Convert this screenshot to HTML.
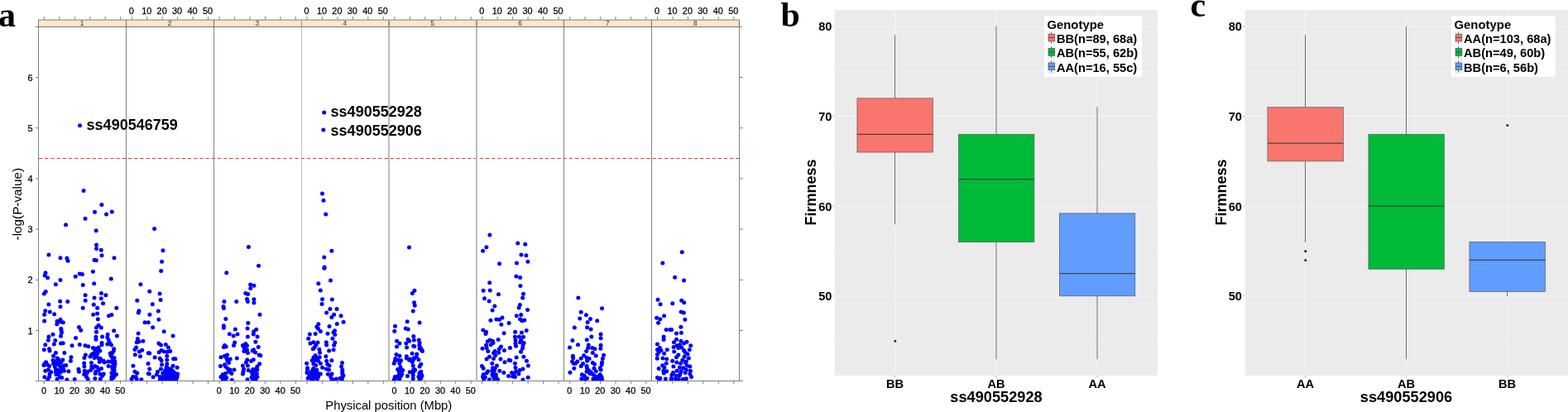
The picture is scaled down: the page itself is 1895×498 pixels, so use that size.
<!DOCTYPE html>
<html lang="en">
<head>
<meta charset="utf-8">
<title>GWAS Manhattan plot and genotype box plots for firmness</title>
<style>
html, body { margin: 0; padding: 0; background: #ffffff; }
body { width: 1895px; height: 498px; overflow: hidden; position: relative; font-family: "Liberation Sans", sans-serif; }
svg text { white-space: pre; }
</style>
</head>
<body>
<svg width="1895" height="498" viewBox="0 0 1895 498" style="display:block;position:absolute;left:0;top:0">
<rect x="0" y="0" width="1895" height="498" fill="#ffffff"/>
<g font-family='"Liberation Serif", serif' font-weight="700" fill="#000">
<text x="-2" y="31.8" font-size="42">a</text>
<text x="943.5" y="31.6" font-size="42">b</text>
<text x="1438.5" y="20.2" font-size="42">c</text>
</g>
<g id="manhattan">
<rect x="47" y="24" width="846.5" height="8.5" fill="#ffe5cc"/>
<g font-family='"Liberation Sans", sans-serif' font-size="8.4" fill="#333" text-anchor="middle">
<text x="99.14" y="30.8">1</text>
<text x="205.01" y="30.8">2</text>
<text x="310.89" y="30.8">3</text>
<text x="416.76" y="30.8">4</text>
<text x="522.64" y="30.8">5</text>
<text x="628.51" y="30.8">6</text>
<text x="734.39" y="30.8">7</text>
<text x="840.26" y="30.8">8</text>
</g>
<clipPath id="pc"><rect x="46" y="30" width="848" height="430.4"/></clipPath>
<g fill="#0000ff" id="dots" clip-path="url(#pc)">
<circle cx="58.93" cy="406.9" r="2.5"/>
<circle cx="73.55" cy="406.34" r="2.5"/>
<circle cx="91.55" cy="408.47" r="2.5"/>
<circle cx="115.95" cy="407.35" r="2.5"/>
<circle cx="123.6" cy="406.9" r="2.5"/>
<circle cx="129.79" cy="407.69" r="2.5"/>
<circle cx="141.37" cy="406" r="2.5"/>
<circle cx="58.37" cy="411.29" r="2.5"/>
<circle cx="66.81" cy="411.62" r="2.5"/>
<circle cx="115.95" cy="410.27" r="2.5"/>
<circle cx="131.25" cy="411.06" r="2.5"/>
<circle cx="54.77" cy="416.68" r="2.5"/>
<circle cx="65.34" cy="416.12" r="2.5"/>
<circle cx="73.55" cy="415" r="2.5"/>
<circle cx="76.14" cy="414.77" r="2.5"/>
<circle cx="87.05" cy="417.81" r="2.5"/>
<circle cx="96.27" cy="416.46" r="2.5"/>
<circle cx="103.02" cy="417.81" r="2.5"/>
<circle cx="106.73" cy="418.71" r="2.5"/>
<circle cx="123.04" cy="414.44" r="2.5"/>
<circle cx="123.04" cy="416.68" r="2.5"/>
<circle cx="129.79" cy="416.12" r="2.5"/>
<circle cx="132.6" cy="414.44" r="2.5"/>
<circle cx="134.62" cy="417.02" r="2.5"/>
<circle cx="53.31" cy="422.65" r="2.5"/>
<circle cx="59.5" cy="421.75" r="2.5"/>
<circle cx="60.06" cy="423.99" r="2.5"/>
<circle cx="112.36" cy="420.4" r="2.5"/>
<circle cx="114.6" cy="422.87" r="2.5"/>
<circle cx="119.1" cy="420.06" r="2.5"/>
<circle cx="120.79" cy="423.99" r="2.5"/>
<circle cx="116.85" cy="424.56" r="2.5"/>
<circle cx="137.66" cy="421.75" r="2.5"/>
<circle cx="137.32" cy="423.99" r="2.5"/>
<circle cx="67.37" cy="426.47" r="2.5"/>
<circle cx="77.83" cy="426.47" r="2.5"/>
<circle cx="103.36" cy="429.06" r="2.5"/>
<circle cx="110.67" cy="429.06" r="2.5"/>
<circle cx="113.48" cy="427.37" r="2.5"/>
<circle cx="117.98" cy="426.81" r="2.5"/>
<circle cx="133.16" cy="427.03" r="2.5"/>
<circle cx="135.97" cy="426.24" r="2.5"/>
<circle cx="64.56" cy="430.18" r="2.5"/>
<circle cx="69.06" cy="432.99" r="2.5"/>
<circle cx="85.93" cy="431.87" r="2.5"/>
<circle cx="101.9" cy="432.43" r="2.5"/>
<circle cx="108.98" cy="430.97" r="2.5"/>
<circle cx="114.04" cy="432.43" r="2.5"/>
<circle cx="116.29" cy="430.18" r="2.5"/>
<circle cx="119.1" cy="432.99" r="2.5"/>
<circle cx="121.35" cy="433.55" r="2.5"/>
<circle cx="134.29" cy="430.18" r="2.5"/>
<circle cx="135.97" cy="432.43" r="2.5"/>
<circle cx="63.99" cy="435.47" r="2.5"/>
<circle cx="70.18" cy="436.37" r="2.5"/>
<circle cx="75.8" cy="435.02" r="2.5"/>
<circle cx="72.99" cy="438.05" r="2.5"/>
<circle cx="85.36" cy="436.14" r="2.5"/>
<circle cx="55.56" cy="437.72" r="2.5"/>
<circle cx="53.87" cy="439.74" r="2.5"/>
<circle cx="101.67" cy="438.95" r="2.5"/>
<circle cx="110.44" cy="438.62" r="2.5"/>
<circle cx="120.23" cy="437.49" r="2.5"/>
<circle cx="125.29" cy="436.14" r="2.5"/>
<circle cx="126.41" cy="438.05" r="2.5"/>
<circle cx="130.91" cy="436.93" r="2.5"/>
<circle cx="135.97" cy="435.47" r="2.5"/>
<circle cx="138.79" cy="436.93" r="2.5"/>
<circle cx="138.22" cy="439.18" r="2.5"/>
<circle cx="52.97" cy="441.43" r="2.5"/>
<circle cx="57.25" cy="440.86" r="2.5"/>
<circle cx="59.5" cy="442.55" r="2.5"/>
<circle cx="64.56" cy="439.74" r="2.5"/>
<circle cx="66.24" cy="443.11" r="2.5"/>
<circle cx="71.31" cy="440.86" r="2.5"/>
<circle cx="76.93" cy="441.99" r="2.5"/>
<circle cx="79.74" cy="441.43" r="2.5"/>
<circle cx="74.68" cy="444.8" r="2.5"/>
<circle cx="101.9" cy="443.11" r="2.5"/>
<circle cx="110.67" cy="443.11" r="2.5"/>
<circle cx="114.6" cy="442.55" r="2.5"/>
<circle cx="117.42" cy="443.68" r="2.5"/>
<circle cx="131.14" cy="442.55" r="2.5"/>
<circle cx="137.1" cy="441.43" r="2.5"/>
<circle cx="138.22" cy="443.68" r="2.5"/>
<circle cx="54.77" cy="448.18" r="2.5"/>
<circle cx="58.37" cy="447.05" r="2.5"/>
<circle cx="61.75" cy="449.86" r="2.5"/>
<circle cx="67.37" cy="445.93" r="2.5"/>
<circle cx="69.06" cy="449.3" r="2.5"/>
<circle cx="72.99" cy="448.18" r="2.5"/>
<circle cx="77.49" cy="448.18" r="2.5"/>
<circle cx="82.89" cy="448.74" r="2.5"/>
<circle cx="94.92" cy="446.15" r="2.5"/>
<circle cx="95.49" cy="449.3" r="2.5"/>
<circle cx="102.23" cy="448.18" r="2.5"/>
<circle cx="105.61" cy="449.3" r="2.5"/>
<circle cx="109.54" cy="447.61" r="2.5"/>
<circle cx="112.36" cy="444.8" r="2.5"/>
<circle cx="115.73" cy="449.3" r="2.5"/>
<circle cx="119.1" cy="447.61" r="2.5"/>
<circle cx="122.48" cy="445.59" r="2.5"/>
<circle cx="135.97" cy="445.93" r="2.5"/>
<circle cx="137.66" cy="448.74" r="2.5"/>
<circle cx="60.06" cy="452.11" r="2.5"/>
<circle cx="70.18" cy="451.55" r="2.5"/>
<circle cx="53.87" cy="455.71" r="2.5"/>
<circle cx="59.5" cy="455.49" r="2.5"/>
<circle cx="67.93" cy="452.67" r="2.5"/>
<circle cx="72.43" cy="455.49" r="2.5"/>
<circle cx="74.68" cy="456.61" r="2.5"/>
<circle cx="101.67" cy="452.45" r="2.5"/>
<circle cx="105.05" cy="450.99" r="2.5"/>
<circle cx="104.48" cy="455.49" r="2.5"/>
<circle cx="115.17" cy="451.55" r="2.5"/>
<circle cx="120.79" cy="452.11" r="2.5"/>
<circle cx="125.29" cy="451.89" r="2.5"/>
<circle cx="123.6" cy="454.36" r="2.5"/>
<circle cx="135.97" cy="451.55" r="2.5"/>
<circle cx="140.47" cy="452.45" r="2.5"/>
<circle cx="138.22" cy="454.36" r="2.5"/>
<circle cx="134.85" cy="455.49" r="2.5"/>
<circle cx="57.81" cy="458.63" r="2.5"/>
<circle cx="69.06" cy="458.3" r="2.5"/>
<circle cx="80.86" cy="459.08" r="2.5"/>
<circle cx="90.2" cy="458.52" r="2.5"/>
<circle cx="106.17" cy="458.3" r="2.5"/>
<circle cx="114.83" cy="457.4" r="2.5"/>
<circle cx="121.35" cy="457.96" r="2.5"/>
<circle cx="134.85" cy="458.3" r="2.5"/>
<circle cx="137.1" cy="456.61" r="2.5"/>
<circle cx="209.08" cy="406" r="2.5"/>
<circle cx="166.34" cy="409.6" r="2.5"/>
<circle cx="165.21" cy="413.65" r="2.5"/>
<circle cx="168.03" cy="412.97" r="2.5"/>
<circle cx="172.86" cy="412.19" r="2.5"/>
<circle cx="191.87" cy="415" r="2.5"/>
<circle cx="194.46" cy="417.02" r="2.5"/>
<circle cx="200.3" cy="416.46" r="2.5"/>
<circle cx="203.45" cy="420.06" r="2.5"/>
<circle cx="164.65" cy="420.06" r="2.5"/>
<circle cx="162.97" cy="422.53" r="2.5"/>
<circle cx="168.36" cy="424.89" r="2.5"/>
<circle cx="171.74" cy="423.21" r="2.5"/>
<circle cx="179.27" cy="426.81" r="2.5"/>
<circle cx="163.3" cy="428.83" r="2.5"/>
<circle cx="169.49" cy="430.74" r="2.5"/>
<circle cx="192.21" cy="425.68" r="2.5"/>
<circle cx="195.02" cy="423.43" r="2.5"/>
<circle cx="198.39" cy="424.89" r="2.5"/>
<circle cx="202.33" cy="425.34" r="2.5"/>
<circle cx="205.7" cy="424.56" r="2.5"/>
<circle cx="187.15" cy="432.09" r="2.5"/>
<circle cx="201.77" cy="430.18" r="2.5"/>
<circle cx="193.33" cy="433.22" r="2.5"/>
<circle cx="195.02" cy="435.8" r="2.5"/>
<circle cx="201.77" cy="435.02" r="2.5"/>
<circle cx="209.64" cy="433.78" r="2.5"/>
<circle cx="211.89" cy="433.78" r="2.5"/>
<circle cx="179.05" cy="439.4" r="2.5"/>
<circle cx="195.58" cy="440.86" r="2.5"/>
<circle cx="201.77" cy="439.74" r="2.5"/>
<circle cx="160.94" cy="442.21" r="2.5"/>
<circle cx="209.08" cy="442.21" r="2.5"/>
<circle cx="214.14" cy="444.24" r="2.5"/>
<circle cx="180.74" cy="445.93" r="2.5"/>
<circle cx="194.46" cy="445.93" r="2.5"/>
<circle cx="201.2" cy="444.24" r="2.5"/>
<circle cx="206.83" cy="445.93" r="2.5"/>
<circle cx="179.27" cy="451.55" r="2.5"/>
<circle cx="162.97" cy="449.3" r="2.5"/>
<circle cx="165.78" cy="450.99" r="2.5"/>
<circle cx="190.52" cy="449.3" r="2.5"/>
<circle cx="189.4" cy="452.67" r="2.5"/>
<circle cx="185.12" cy="455.71" r="2.5"/>
<circle cx="160.72" cy="455.49" r="2.5"/>
<circle cx="164.09" cy="455.49" r="2.5"/>
<circle cx="159.03" cy="458.3" r="2.5"/>
<circle cx="165.21" cy="458.3" r="2.5"/>
<circle cx="170.84" cy="458.86" r="2.5"/>
<circle cx="196.71" cy="450.99" r="2.5"/>
<circle cx="200.08" cy="448.74" r="2.5"/>
<circle cx="203.45" cy="447.61" r="2.5"/>
<circle cx="205.7" cy="449.86" r="2.5"/>
<circle cx="209.08" cy="448.74" r="2.5"/>
<circle cx="211.33" cy="450.99" r="2.5"/>
<circle cx="214.7" cy="452.11" r="2.5"/>
<circle cx="197.83" cy="454.36" r="2.5"/>
<circle cx="201.2" cy="453.24" r="2.5"/>
<circle cx="204.58" cy="452.11" r="2.5"/>
<circle cx="207.95" cy="453.24" r="2.5"/>
<circle cx="211.33" cy="454.36" r="2.5"/>
<circle cx="214.14" cy="455.49" r="2.5"/>
<circle cx="193.33" cy="455.49" r="2.5"/>
<circle cx="196.71" cy="457.73" r="2.5"/>
<circle cx="200.08" cy="456.61" r="2.5"/>
<circle cx="203.45" cy="456.05" r="2.5"/>
<circle cx="206.83" cy="456.61" r="2.5"/>
<circle cx="210.2" cy="457.17" r="2.5"/>
<circle cx="213.01" cy="458.3" r="2.5"/>
<circle cx="193.33" cy="458.86" r="2.5"/>
<circle cx="197.83" cy="459.42" r="2.5"/>
<circle cx="202.33" cy="459.42" r="2.5"/>
<circle cx="205.7" cy="459.42" r="2.5"/>
<circle cx="209.08" cy="459.42" r="2.5"/>
<circle cx="282.18" cy="406" r="2.5"/>
<circle cx="299.39" cy="406.9" r="2.5"/>
<circle cx="311.08" cy="406.9" r="2.5"/>
<circle cx="283.64" cy="414.1" r="2.5"/>
<circle cx="282.52" cy="417.47" r="2.5"/>
<circle cx="308.84" cy="413.31" r="2.5"/>
<circle cx="271.5" cy="417.58" r="2.5"/>
<circle cx="273.18" cy="418.93" r="2.5"/>
<circle cx="270.37" cy="419.5" r="2.5"/>
<circle cx="296.8" cy="415.56" r="2.5"/>
<circle cx="293.43" cy="417.58" r="2.5"/>
<circle cx="298.49" cy="417.81" r="2.5"/>
<circle cx="295.11" cy="420.62" r="2.5"/>
<circle cx="298.49" cy="422.87" r="2.5"/>
<circle cx="294.89" cy="424.56" r="2.5"/>
<circle cx="299.39" cy="426.58" r="2.5"/>
<circle cx="312.21" cy="419.5" r="2.5"/>
<circle cx="306.59" cy="422.87" r="2.5"/>
<circle cx="305.24" cy="423.99" r="2.5"/>
<circle cx="308.61" cy="426.02" r="2.5"/>
<circle cx="313.11" cy="429.06" r="2.5"/>
<circle cx="314.8" cy="429.84" r="2.5"/>
<circle cx="274.65" cy="429.06" r="2.5"/>
<circle cx="271.5" cy="430.18" r="2.5"/>
<circle cx="267" cy="431.64" r="2.5"/>
<circle cx="273.75" cy="432.99" r="2.5"/>
<circle cx="286.34" cy="432.99" r="2.5"/>
<circle cx="278.24" cy="434.12" r="2.5"/>
<circle cx="274.87" cy="436.37" r="2.5"/>
<circle cx="276.56" cy="438.62" r="2.5"/>
<circle cx="298.71" cy="435.02" r="2.5"/>
<circle cx="306.36" cy="434.68" r="2.5"/>
<circle cx="303.55" cy="436.59" r="2.5"/>
<circle cx="297.36" cy="438.05" r="2.5"/>
<circle cx="313.67" cy="439.74" r="2.5"/>
<circle cx="271.5" cy="440.86" r="2.5"/>
<circle cx="266.44" cy="442.55" r="2.5"/>
<circle cx="272.62" cy="443.11" r="2.5"/>
<circle cx="274.87" cy="445.36" r="2.5"/>
<circle cx="293.43" cy="441.99" r="2.5"/>
<circle cx="299.39" cy="441.99" r="2.5"/>
<circle cx="294.55" cy="445.93" r="2.5"/>
<circle cx="310.86" cy="443.11" r="2.5"/>
<circle cx="309.17" cy="445.93" r="2.5"/>
<circle cx="305.8" cy="446.49" r="2.5"/>
<circle cx="278.24" cy="447.05" r="2.5"/>
<circle cx="282.97" cy="447.05" r="2.5"/>
<circle cx="276.56" cy="449.3" r="2.5"/>
<circle cx="279.93" cy="451.55" r="2.5"/>
<circle cx="272.62" cy="451.55" r="2.5"/>
<circle cx="269.25" cy="452.67" r="2.5"/>
<circle cx="267" cy="455.49" r="2.5"/>
<circle cx="270.93" cy="455.49" r="2.5"/>
<circle cx="273.75" cy="456.61" r="2.5"/>
<circle cx="269.25" cy="458.3" r="2.5"/>
<circle cx="272.62" cy="458.86" r="2.5"/>
<circle cx="280.27" cy="459.42" r="2.5"/>
<circle cx="293.99" cy="449.3" r="2.5"/>
<circle cx="293.43" cy="452.11" r="2.5"/>
<circle cx="300.18" cy="447.61" r="2.5"/>
<circle cx="304.11" cy="449.86" r="2.5"/>
<circle cx="307.49" cy="448.74" r="2.5"/>
<circle cx="310.86" cy="447.05" r="2.5"/>
<circle cx="310.3" cy="451.55" r="2.5"/>
<circle cx="305.24" cy="452.67" r="2.5"/>
<circle cx="307.49" cy="454.92" r="2.5"/>
<circle cx="304.11" cy="456.05" r="2.5"/>
<circle cx="310.86" cy="455.49" r="2.5"/>
<circle cx="299.05" cy="458.63" r="2.5"/>
<circle cx="305.24" cy="458.63" r="2.5"/>
<circle cx="309.17" cy="458.63" r="2.5"/>
<circle cx="372.72" cy="409.15" r="2.5"/>
<circle cx="401.96" cy="409.37" r="2.5"/>
<circle cx="374.97" cy="415" r="2.5"/>
<circle cx="378.9" cy="413.65" r="2.5"/>
<circle cx="383.96" cy="414.1" r="2.5"/>
<circle cx="381.71" cy="417.25" r="2.5"/>
<circle cx="380.03" cy="420.06" r="2.5"/>
<circle cx="378.34" cy="421.75" r="2.5"/>
<circle cx="394.31" cy="413.65" r="2.5"/>
<circle cx="394.65" cy="417.02" r="2.5"/>
<circle cx="404.77" cy="414.1" r="2.5"/>
<circle cx="403.64" cy="417.25" r="2.5"/>
<circle cx="385.87" cy="422.31" r="2.5"/>
<circle cx="386.55" cy="426.24" r="2.5"/>
<circle cx="397.68" cy="423.99" r="2.5"/>
<circle cx="403.08" cy="422.87" r="2.5"/>
<circle cx="381.15" cy="429.84" r="2.5"/>
<circle cx="378.9" cy="432.09" r="2.5"/>
<circle cx="382.28" cy="432.99" r="2.5"/>
<circle cx="386.21" cy="431.87" r="2.5"/>
<circle cx="393.86" cy="430.74" r="2.5"/>
<circle cx="377.21" cy="435.8" r="2.5"/>
<circle cx="380.59" cy="435.47" r="2.5"/>
<circle cx="384.53" cy="436.14" r="2.5"/>
<circle cx="387.34" cy="439.18" r="2.5"/>
<circle cx="394.65" cy="436.37" r="2.5"/>
<circle cx="400.83" cy="435.8" r="2.5"/>
<circle cx="370.69" cy="439.18" r="2.5"/>
<circle cx="378.9" cy="439.74" r="2.5"/>
<circle cx="381.71" cy="441.43" r="2.5"/>
<circle cx="395.77" cy="440.3" r="2.5"/>
<circle cx="398.02" cy="441.99" r="2.5"/>
<circle cx="413.54" cy="438.62" r="2.5"/>
<circle cx="412.64" cy="443.11" r="2.5"/>
<circle cx="371.59" cy="444.8" r="2.5"/>
<circle cx="371.59" cy="447.05" r="2.5"/>
<circle cx="378.9" cy="445.36" r="2.5"/>
<circle cx="382.84" cy="447.05" r="2.5"/>
<circle cx="389.59" cy="444.24" r="2.5"/>
<circle cx="394.31" cy="445.93" r="2.5"/>
<circle cx="397.46" cy="447.05" r="2.5"/>
<circle cx="413.77" cy="447.05" r="2.5"/>
<circle cx="413.77" cy="449.3" r="2.5"/>
<circle cx="371.03" cy="450.42" r="2.5"/>
<circle cx="376.09" cy="449.86" r="2.5"/>
<circle cx="380.59" cy="449.86" r="2.5"/>
<circle cx="383.96" cy="450.99" r="2.5"/>
<circle cx="387.34" cy="451.89" r="2.5"/>
<circle cx="396.33" cy="452.34" r="2.5"/>
<circle cx="401.06" cy="451.89" r="2.5"/>
<circle cx="413.77" cy="452.11" r="2.5"/>
<circle cx="414.89" cy="453.8" r="2.5"/>
<circle cx="373.84" cy="454.36" r="2.5"/>
<circle cx="377.78" cy="453.24" r="2.5"/>
<circle cx="381.71" cy="454.36" r="2.5"/>
<circle cx="384.53" cy="455.49" r="2.5"/>
<circle cx="372.15" cy="457.17" r="2.5"/>
<circle cx="376.09" cy="457.17" r="2.5"/>
<circle cx="380.03" cy="457.17" r="2.5"/>
<circle cx="377.21" cy="458.86" r="2.5"/>
<circle cx="383.4" cy="458.3" r="2.5"/>
<circle cx="399.71" cy="455.49" r="2.5"/>
<circle cx="400.83" cy="458.3" r="2.5"/>
<circle cx="406.46" cy="457.96" r="2.5"/>
<circle cx="410.95" cy="457.17" r="2.5"/>
<circle cx="413.77" cy="456.05" r="2.5"/>
<circle cx="413.2" cy="458.86" r="2.5"/>
<circle cx="404.21" cy="459.08" r="2.5"/>
<circle cx="499.8" cy="406.56" r="2.5"/>
<circle cx="500.37" cy="411.06" r="2.5"/>
<circle cx="493.06" cy="410.27" r="2.5"/>
<circle cx="494.74" cy="412.19" r="2.5"/>
<circle cx="479.56" cy="412.19" r="2.5"/>
<circle cx="482.93" cy="415" r="2.5"/>
<circle cx="490.81" cy="415" r="2.5"/>
<circle cx="479.56" cy="418.93" r="2.5"/>
<circle cx="491.59" cy="420.06" r="2.5"/>
<circle cx="499.8" cy="418.37" r="2.5"/>
<circle cx="506.21" cy="411.06" r="2.5"/>
<circle cx="507.11" cy="414.44" r="2.5"/>
<circle cx="506.89" cy="417.25" r="2.5"/>
<circle cx="508.24" cy="420.62" r="2.5"/>
<circle cx="509.36" cy="422.87" r="2.5"/>
<circle cx="510.49" cy="424.56" r="2.5"/>
<circle cx="498.12" cy="427.14" r="2.5"/>
<circle cx="479" cy="428.49" r="2.5"/>
<circle cx="482.93" cy="430.18" r="2.5"/>
<circle cx="491.37" cy="430.74" r="2.5"/>
<circle cx="503.74" cy="427.93" r="2.5"/>
<circle cx="503.18" cy="431.31" r="2.5"/>
<circle cx="491.37" cy="432.99" r="2.5"/>
<circle cx="495.31" cy="434.12" r="2.5"/>
<circle cx="499.8" cy="432.99" r="2.5"/>
<circle cx="505.99" cy="434.68" r="2.5"/>
<circle cx="477.87" cy="433.55" r="2.5"/>
<circle cx="481.25" cy="435.24" r="2.5"/>
<circle cx="484.62" cy="435.8" r="2.5"/>
<circle cx="477.31" cy="436.37" r="2.5"/>
<circle cx="476.19" cy="439.18" r="2.5"/>
<circle cx="482.93" cy="439.18" r="2.5"/>
<circle cx="498.12" cy="437.49" r="2.5"/>
<circle cx="499.24" cy="441.99" r="2.5"/>
<circle cx="508.8" cy="440.3" r="2.5"/>
<circle cx="507.11" cy="443.11" r="2.5"/>
<circle cx="484.06" cy="443.68" r="2.5"/>
<circle cx="480.68" cy="446.49" r="2.5"/>
<circle cx="484.62" cy="447.61" r="2.5"/>
<circle cx="486.87" cy="447.61" r="2.5"/>
<circle cx="499.8" cy="446.49" r="2.5"/>
<circle cx="501.49" cy="447.61" r="2.5"/>
<circle cx="495.31" cy="449.86" r="2.5"/>
<circle cx="499.24" cy="450.42" r="2.5"/>
<circle cx="508.8" cy="449.3" r="2.5"/>
<circle cx="482.37" cy="449.86" r="2.5"/>
<circle cx="483.5" cy="452.11" r="2.5"/>
<circle cx="485.75" cy="452.11" r="2.5"/>
<circle cx="481.25" cy="454.36" r="2.5"/>
<circle cx="484.62" cy="454.36" r="2.5"/>
<circle cx="477.31" cy="455.49" r="2.5"/>
<circle cx="479.56" cy="457.17" r="2.5"/>
<circle cx="482.93" cy="457.73" r="2.5"/>
<circle cx="476.19" cy="458.63" r="2.5"/>
<circle cx="492.49" cy="454.59" r="2.5"/>
<circle cx="499.24" cy="453.8" r="2.5"/>
<circle cx="499.24" cy="457.73" r="2.5"/>
<circle cx="507.11" cy="452.11" r="2.5"/>
<circle cx="509.93" cy="454.14" r="2.5"/>
<circle cx="505.99" cy="455.49" r="2.5"/>
<circle cx="508.8" cy="457.17" r="2.5"/>
<circle cx="507.11" cy="458.63" r="2.5"/>
<circle cx="622.39" cy="406.9" r="2.5"/>
<circle cx="627.45" cy="407.12" r="2.5"/>
<circle cx="632.51" cy="407.35" r="2.5"/>
<circle cx="602.15" cy="410.5" r="2.5"/>
<circle cx="622.95" cy="411.06" r="2.5"/>
<circle cx="629.7" cy="411.06" r="2.5"/>
<circle cx="592.03" cy="411.06" r="2.5"/>
<circle cx="589.21" cy="412.75" r="2.5"/>
<circle cx="595.4" cy="412.19" r="2.5"/>
<circle cx="595.96" cy="414.44" r="2.5"/>
<circle cx="593.15" cy="416.68" r="2.5"/>
<circle cx="587.53" cy="417.25" r="2.5"/>
<circle cx="622.95" cy="415" r="2.5"/>
<circle cx="628.58" cy="413.87" r="2.5"/>
<circle cx="633.08" cy="414.44" r="2.5"/>
<circle cx="623.52" cy="418.37" r="2.5"/>
<circle cx="631.95" cy="417.81" r="2.5"/>
<circle cx="583.03" cy="421.18" r="2.5"/>
<circle cx="588.09" cy="420.62" r="2.5"/>
<circle cx="589.78" cy="424.56" r="2.5"/>
<circle cx="605.52" cy="418.93" r="2.5"/>
<circle cx="603.27" cy="421.75" r="2.5"/>
<circle cx="609.46" cy="423.43" r="2.5"/>
<circle cx="616.43" cy="420.62" r="2.5"/>
<circle cx="631.39" cy="421.18" r="2.5"/>
<circle cx="629.48" cy="425.34" r="2.5"/>
<circle cx="598.21" cy="424.56" r="2.5"/>
<circle cx="602.71" cy="426.24" r="2.5"/>
<circle cx="596.53" cy="426.81" r="2.5"/>
<circle cx="598.77" cy="429.62" r="2.5"/>
<circle cx="591.46" cy="431.31" r="2.5"/>
<circle cx="588.09" cy="434.12" r="2.5"/>
<circle cx="596.53" cy="433.55" r="2.5"/>
<circle cx="604.96" cy="434.12" r="2.5"/>
<circle cx="624.08" cy="432.09" r="2.5"/>
<circle cx="632.85" cy="431.31" r="2.5"/>
<circle cx="615.08" cy="435.24" r="2.5"/>
<circle cx="616.77" cy="435.8" r="2.5"/>
<circle cx="610.02" cy="437.72" r="2.5"/>
<circle cx="636.45" cy="436.37" r="2.5"/>
<circle cx="594.84" cy="439.18" r="2.5"/>
<circle cx="622.39" cy="439.18" r="2.5"/>
<circle cx="582.47" cy="442.55" r="2.5"/>
<circle cx="600.46" cy="441.99" r="2.5"/>
<circle cx="584.15" cy="445.36" r="2.5"/>
<circle cx="595.4" cy="444.8" r="2.5"/>
<circle cx="598.21" cy="445.36" r="2.5"/>
<circle cx="638.36" cy="441.99" r="2.5"/>
<circle cx="622.95" cy="444.24" r="2.5"/>
<circle cx="631.95" cy="445.93" r="2.5"/>
<circle cx="628.02" cy="447.61" r="2.5"/>
<circle cx="623.52" cy="448.74" r="2.5"/>
<circle cx="589.78" cy="448.74" r="2.5"/>
<circle cx="594.84" cy="448.18" r="2.5"/>
<circle cx="596.53" cy="450.42" r="2.5"/>
<circle cx="603.84" cy="448.18" r="2.5"/>
<circle cx="608.9" cy="450.42" r="2.5"/>
<circle cx="618.46" cy="450.42" r="2.5"/>
<circle cx="621.27" cy="452.11" r="2.5"/>
<circle cx="626.89" cy="452.11" r="2.5"/>
<circle cx="588.09" cy="450.99" r="2.5"/>
<circle cx="584.15" cy="452.67" r="2.5"/>
<circle cx="599.34" cy="452.67" r="2.5"/>
<circle cx="583.59" cy="455.49" r="2.5"/>
<circle cx="586.4" cy="456.05" r="2.5"/>
<circle cx="595.4" cy="454.36" r="2.5"/>
<circle cx="584.72" cy="458.3" r="2.5"/>
<circle cx="591.46" cy="458.86" r="2.5"/>
<circle cx="597.09" cy="457.73" r="2.5"/>
<circle cx="601.59" cy="458.63" r="2.5"/>
<circle cx="614.52" cy="454.59" r="2.5"/>
<circle cx="619.58" cy="454.92" r="2.5"/>
<circle cx="622.39" cy="455.49" r="2.5"/>
<circle cx="638.14" cy="456.27" r="2.5"/>
<circle cx="631.95" cy="459.08" r="2.5"/>
<circle cx="714.84" cy="407.12" r="2.5"/>
<circle cx="726.09" cy="408.81" r="2.5"/>
<circle cx="691.9" cy="411.62" r="2.5"/>
<circle cx="709.22" cy="410.72" r="2.5"/>
<circle cx="698.53" cy="416.68" r="2.5"/>
<circle cx="688.52" cy="420.06" r="2.5"/>
<circle cx="711.24" cy="417.02" r="2.5"/>
<circle cx="726.09" cy="417.25" r="2.5"/>
<circle cx="710.68" cy="420.62" r="2.5"/>
<circle cx="715.74" cy="420.62" r="2.5"/>
<circle cx="718.89" cy="421.75" r="2.5"/>
<circle cx="725.86" cy="421.18" r="2.5"/>
<circle cx="708.65" cy="424.56" r="2.5"/>
<circle cx="716.3" cy="426.47" r="2.5"/>
<circle cx="692.35" cy="430.18" r="2.5"/>
<circle cx="705.62" cy="429.84" r="2.5"/>
<circle cx="720.24" cy="429.96" r="2.5"/>
<circle cx="729.57" cy="429.28" r="2.5"/>
<circle cx="692.68" cy="432.77" r="2.5"/>
<circle cx="702.24" cy="433.33" r="2.5"/>
<circle cx="708.99" cy="432.43" r="2.5"/>
<circle cx="712.14" cy="433.55" r="2.5"/>
<circle cx="728.34" cy="433.55" r="2.5"/>
<circle cx="709.55" cy="436.14" r="2.5"/>
<circle cx="691.56" cy="436.93" r="2.5"/>
<circle cx="697.75" cy="436.93" r="2.5"/>
<circle cx="693.25" cy="439.18" r="2.5"/>
<circle cx="695.5" cy="439.18" r="2.5"/>
<circle cx="716.3" cy="438.62" r="2.5"/>
<circle cx="704.49" cy="439.4" r="2.5"/>
<circle cx="718.55" cy="440.3" r="2.5"/>
<circle cx="727.55" cy="438.05" r="2.5"/>
<circle cx="727.21" cy="440.64" r="2.5"/>
<circle cx="702.24" cy="442.55" r="2.5"/>
<circle cx="708.99" cy="442.55" r="2.5"/>
<circle cx="693.81" cy="445.14" r="2.5"/>
<circle cx="709.55" cy="445.36" r="2.5"/>
<circle cx="717.99" cy="445.14" r="2.5"/>
<circle cx="725.3" cy="444.8" r="2.5"/>
<circle cx="726.09" cy="447.05" r="2.5"/>
<circle cx="711.24" cy="447.61" r="2.5"/>
<circle cx="720.24" cy="448.74" r="2.5"/>
<circle cx="688.97" cy="450.2" r="2.5"/>
<circle cx="708.99" cy="449.3" r="2.5"/>
<circle cx="714.05" cy="449.64" r="2.5"/>
<circle cx="712.93" cy="451.55" r="2.5"/>
<circle cx="715.74" cy="452.11" r="2.5"/>
<circle cx="703.37" cy="452.67" r="2.5"/>
<circle cx="706.18" cy="454.36" r="2.5"/>
<circle cx="718.55" cy="454.36" r="2.5"/>
<circle cx="725.3" cy="452.67" r="2.5"/>
<circle cx="723.05" cy="454.92" r="2.5"/>
<circle cx="726.99" cy="455.49" r="2.5"/>
<circle cx="709.55" cy="457.17" r="2.5"/>
<circle cx="702.81" cy="457.73" r="2.5"/>
<circle cx="707.31" cy="458.3" r="2.5"/>
<circle cx="716.86" cy="457.96" r="2.5"/>
<circle cx="720.8" cy="457.73" r="2.5"/>
<circle cx="725.3" cy="458.3" r="2.5"/>
<circle cx="727.55" cy="458.3" r="2.5"/>
<circle cx="802.11" cy="407.12" r="2.5"/>
<circle cx="802.11" cy="410.5" r="2.5"/>
<circle cx="817.52" cy="410.27" r="2.5"/>
<circle cx="814.49" cy="413.65" r="2.5"/>
<circle cx="822.92" cy="412.19" r="2.5"/>
<circle cx="829.89" cy="413.31" r="2.5"/>
<circle cx="826.52" cy="415" r="2.5"/>
<circle cx="794.47" cy="415.9" r="2.5"/>
<circle cx="818.08" cy="417.81" r="2.5"/>
<circle cx="821.46" cy="416.68" r="2.5"/>
<circle cx="814.15" cy="419.5" r="2.5"/>
<circle cx="819.77" cy="420.62" r="2.5"/>
<circle cx="823.71" cy="420.06" r="2.5"/>
<circle cx="834.73" cy="417.81" r="2.5"/>
<circle cx="833.27" cy="422.65" r="2.5"/>
<circle cx="826.52" cy="423.43" r="2.5"/>
<circle cx="797.28" cy="420.62" r="2.5"/>
<circle cx="794.47" cy="422.87" r="2.5"/>
<circle cx="798.97" cy="423.43" r="2.5"/>
<circle cx="806.28" cy="422.87" r="2.5"/>
<circle cx="796.15" cy="425.68" r="2.5"/>
<circle cx="814.71" cy="424.89" r="2.5"/>
<circle cx="828.21" cy="426.24" r="2.5"/>
<circle cx="802.68" cy="427.14" r="2.5"/>
<circle cx="794.47" cy="428.49" r="2.5"/>
<circle cx="831.02" cy="427.93" r="2.5"/>
<circle cx="819.77" cy="429.06" r="2.5"/>
<circle cx="817.52" cy="431.87" r="2.5"/>
<circle cx="827.08" cy="431.31" r="2.5"/>
<circle cx="832.37" cy="432.99" r="2.5"/>
<circle cx="794.24" cy="433.22" r="2.5"/>
<circle cx="800.99" cy="432.99" r="2.5"/>
<circle cx="805.71" cy="434.12" r="2.5"/>
<circle cx="824.83" cy="435.24" r="2.5"/>
<circle cx="812.69" cy="436.14" r="2.5"/>
<circle cx="829.33" cy="436.93" r="2.5"/>
<circle cx="817.86" cy="438.05" r="2.5"/>
<circle cx="822.58" cy="439.18" r="2.5"/>
<circle cx="828.21" cy="438.62" r="2.5"/>
<circle cx="805.15" cy="439.18" r="2.5"/>
<circle cx="800.65" cy="441.76" r="2.5"/>
<circle cx="813.92" cy="443.11" r="2.5"/>
<circle cx="830.46" cy="441.99" r="2.5"/>
<circle cx="833.83" cy="443.11" r="2.5"/>
<circle cx="821.46" cy="444.24" r="2.5"/>
<circle cx="825.96" cy="444.8" r="2.5"/>
<circle cx="802.9" cy="444.24" r="2.5"/>
<circle cx="796.15" cy="445.59" r="2.5"/>
<circle cx="829.33" cy="447.05" r="2.5"/>
<circle cx="834.39" cy="448.18" r="2.5"/>
<circle cx="818.08" cy="448.18" r="2.5"/>
<circle cx="823.15" cy="448.74" r="2.5"/>
<circle cx="801.78" cy="448.18" r="2.5"/>
<circle cx="805.71" cy="448.74" r="2.5"/>
<circle cx="802.34" cy="450.99" r="2.5"/>
<circle cx="813.59" cy="450.42" r="2.5"/>
<circle cx="828.21" cy="450.42" r="2.5"/>
<circle cx="822.02" cy="452.11" r="2.5"/>
<circle cx="833.83" cy="452.11" r="2.5"/>
<circle cx="811.9" cy="453.24" r="2.5"/>
<circle cx="816.96" cy="454.36" r="2.5"/>
<circle cx="820.9" cy="454.36" r="2.5"/>
<circle cx="835.52" cy="455.49" r="2.5"/>
<circle cx="794.47" cy="456.61" r="2.5"/>
<circle cx="797.84" cy="457.17" r="2.5"/>
<circle cx="796.72" cy="458.86" r="2.5"/>
<circle cx="804.36" cy="457.96" r="2.5"/>
<circle cx="811.34" cy="457.17" r="2.5"/>
<circle cx="811.34" cy="458.86" r="2.5"/>
<circle cx="816.4" cy="457.73" r="2.5"/>
<circle cx="820.33" cy="458.86" r="2.5"/>
<circle cx="825.4" cy="458.3" r="2.5"/>
<circle cx="829.33" cy="457.73" r="2.5"/>
<circle cx="55.22" cy="352.47" r="2.5"/>
<circle cx="53.31" cy="355.06" r="2.5"/>
<circle cx="103.13" cy="356.75" r="2.5"/>
<circle cx="122.48" cy="354.5" r="2.5"/>
<circle cx="127.88" cy="356.75" r="2.5"/>
<circle cx="114.04" cy="360.12" r="2.5"/>
<circle cx="122.25" cy="360.68" r="2.5"/>
<circle cx="103.13" cy="363.16" r="2.5"/>
<circle cx="72.65" cy="364.28" r="2.5"/>
<circle cx="81.76" cy="364.62" r="2.5"/>
<circle cx="58.93" cy="367.99" r="2.5"/>
<circle cx="72.99" cy="370.81" r="2.5"/>
<circle cx="113.26" cy="368.33" r="2.5"/>
<circle cx="124.5" cy="366.87" r="2.5"/>
<circle cx="100.21" cy="372.27" r="2.5"/>
<circle cx="117.64" cy="372.27" r="2.5"/>
<circle cx="140.81" cy="372.27" r="2.5"/>
<circle cx="54.77" cy="375.64" r="2.5"/>
<circle cx="60.28" cy="376.99" r="2.5"/>
<circle cx="65.68" cy="379.8" r="2.5"/>
<circle cx="53.65" cy="380.37" r="2.5"/>
<circle cx="117.64" cy="379.02" r="2.5"/>
<circle cx="112.69" cy="380.37" r="2.5"/>
<circle cx="134.85" cy="380.59" r="2.5"/>
<circle cx="131.47" cy="381.83" r="2.5"/>
<circle cx="118.32" cy="385.65" r="2.5"/>
<circle cx="72.99" cy="386.21" r="2.5"/>
<circle cx="69.06" cy="388.24" r="2.5"/>
<circle cx="53.65" cy="387.9" r="2.5"/>
<circle cx="73.33" cy="389.03" r="2.5"/>
<circle cx="76.37" cy="389.7" r="2.5"/>
<circle cx="68.83" cy="391.84" r="2.5"/>
<circle cx="119.1" cy="393.3" r="2.5"/>
<circle cx="95.49" cy="395.55" r="2.5"/>
<circle cx="116.52" cy="396.11" r="2.5"/>
<circle cx="122.25" cy="395.89" r="2.5"/>
<circle cx="97.73" cy="399.15" r="2.5"/>
<circle cx="73.78" cy="397.24" r="2.5"/>
<circle cx="74.12" cy="399.49" r="2.5"/>
<circle cx="74.45" cy="401.96" r="2.5"/>
<circle cx="137.66" cy="399.82" r="2.5"/>
<circle cx="116.52" cy="401.17" r="2.5"/>
<circle cx="63.99" cy="404.32" r="2.5"/>
<circle cx="130.13" cy="404.32" r="2.5"/>
<circle cx="180.74" cy="352.25" r="2.5"/>
<circle cx="193.11" cy="355.06" r="2.5"/>
<circle cx="165.78" cy="363.16" r="2.5"/>
<circle cx="194.12" cy="362.6" r="2.5"/>
<circle cx="184.33" cy="367.66" r="2.5"/>
<circle cx="168.03" cy="375.87" r="2.5"/>
<circle cx="167.24" cy="377.89" r="2.5"/>
<circle cx="191.31" cy="376.09" r="2.5"/>
<circle cx="180.96" cy="380.37" r="2.5"/>
<circle cx="191.87" cy="386.33" r="2.5"/>
<circle cx="175" cy="389.7" r="2.5"/>
<circle cx="179.27" cy="389.7" r="2.5"/>
<circle cx="184.67" cy="395.77" r="2.5"/>
<circle cx="198.17" cy="400.84" r="2.5"/>
<circle cx="167.13" cy="403.08" r="2.5"/>
<circle cx="296.8" cy="354.5" r="2.5"/>
<circle cx="299.61" cy="355.62" r="2.5"/>
<circle cx="298.49" cy="361.47" r="2.5"/>
<circle cx="299.39" cy="364.4" r="2.5"/>
<circle cx="306.92" cy="361.81" r="2.5"/>
<circle cx="306.92" cy="365.97" r="2.5"/>
<circle cx="270.93" cy="364.4" r="2.5"/>
<circle cx="285.78" cy="364.62" r="2.5"/>
<circle cx="270.03" cy="370.58" r="2.5"/>
<circle cx="270.37" cy="372.49" r="2.5"/>
<circle cx="314.01" cy="380.37" r="2.5"/>
<circle cx="272.85" cy="385.43" r="2.5"/>
<circle cx="299.84" cy="390.49" r="2.5"/>
<circle cx="270.37" cy="393.86" r="2.5"/>
<circle cx="270.37" cy="396.34" r="2.5"/>
<circle cx="284.43" cy="398.02" r="2.5"/>
<circle cx="299.05" cy="397.01" r="2.5"/>
<circle cx="309.73" cy="398.14" r="2.5"/>
<circle cx="306.59" cy="400.84" r="2.5"/>
<circle cx="277.34" cy="403.65" r="2.5"/>
<circle cx="287.02" cy="403.98" r="2.5"/>
<circle cx="306.36" cy="403.98" r="2.5"/>
<circle cx="387.34" cy="350.9" r="2.5"/>
<circle cx="389.59" cy="361.81" r="2.5"/>
<circle cx="401.4" cy="362.03" r="2.5"/>
<circle cx="389.02" cy="367.43" r="2.5"/>
<circle cx="398.92" cy="373.62" r="2.5"/>
<circle cx="407.02" cy="373.39" r="2.5"/>
<circle cx="394.65" cy="377.89" r="2.5"/>
<circle cx="403.64" cy="380.14" r="2.5"/>
<circle cx="400.83" cy="383.52" r="2.5"/>
<circle cx="412.08" cy="381.72" r="2.5"/>
<circle cx="415.12" cy="389.14" r="2.5"/>
<circle cx="384.86" cy="391.84" r="2.5"/>
<circle cx="407.24" cy="391.61" r="2.5"/>
<circle cx="398.02" cy="394.42" r="2.5"/>
<circle cx="382.84" cy="394.99" r="2.5"/>
<circle cx="384.53" cy="397.24" r="2.5"/>
<circle cx="387.34" cy="400.39" r="2.5"/>
<circle cx="404.54" cy="399.82" r="2.5"/>
<circle cx="403.08" cy="401.73" r="2.5"/>
<circle cx="374.4" cy="403.98" r="2.5"/>
<circle cx="381.15" cy="403.42" r="2.5"/>
<circle cx="396" cy="403.2" r="2.5"/>
<circle cx="404.77" cy="404.55" r="2.5"/>
<circle cx="500.93" cy="351.35" r="2.5"/>
<circle cx="498.34" cy="354.5" r="2.5"/>
<circle cx="500.59" cy="365.75" r="2.5"/>
<circle cx="501.27" cy="369.34" r="2.5"/>
<circle cx="499.24" cy="376.09" r="2.5"/>
<circle cx="492.16" cy="388.8" r="2.5"/>
<circle cx="507.11" cy="390.04" r="2.5"/>
<circle cx="477.54" cy="394.2" r="2.5"/>
<circle cx="476.75" cy="400.27" r="2.5"/>
<circle cx="490.24" cy="397.01" r="2.5"/>
<circle cx="493.28" cy="398.02" r="2.5"/>
<circle cx="584.15" cy="351.35" r="2.5"/>
<circle cx="592.25" cy="350.9" r="2.5"/>
<circle cx="602.49" cy="355.85" r="2.5"/>
<circle cx="632.51" cy="355.29" r="2.5"/>
<circle cx="631.61" cy="359.9" r="2.5"/>
<circle cx="585.5" cy="360.68" r="2.5"/>
<circle cx="591.13" cy="364.06" r="2.5"/>
<circle cx="597.87" cy="370.02" r="2.5"/>
<circle cx="628.35" cy="368.56" r="2.5"/>
<circle cx="627.12" cy="371.93" r="2.5"/>
<circle cx="595.06" cy="375.08" r="2.5"/>
<circle cx="637.58" cy="374.52" r="2.5"/>
<circle cx="624.3" cy="381.72" r="2.5"/>
<circle cx="629.7" cy="380.59" r="2.5"/>
<circle cx="606.98" cy="383.96" r="2.5"/>
<circle cx="599.9" cy="385.99" r="2.5"/>
<circle cx="603.5" cy="386.21" r="2.5"/>
<circle cx="592.93" cy="387.34" r="2.5"/>
<circle cx="628.58" cy="385.76" r="2.5"/>
<circle cx="630.83" cy="387.68" r="2.5"/>
<circle cx="633.86" cy="386.89" r="2.5"/>
<circle cx="615.08" cy="390.49" r="2.5"/>
<circle cx="605.86" cy="392.18" r="2.5"/>
<circle cx="583.82" cy="398.92" r="2.5"/>
<circle cx="587.53" cy="401.17" r="2.5"/>
<circle cx="586.97" cy="403.42" r="2.5"/>
<circle cx="609.12" cy="402.63" r="2.5"/>
<circle cx="622.62" cy="401.17" r="2.5"/>
<circle cx="630.49" cy="402.07" r="2.5"/>
<circle cx="636.23" cy="399.49" r="2.5"/>
<circle cx="698.87" cy="360.12" r="2.5"/>
<circle cx="727.55" cy="372.83" r="2.5"/>
<circle cx="702.24" cy="377.33" r="2.5"/>
<circle cx="708.43" cy="380.7" r="2.5"/>
<circle cx="700.78" cy="385.09" r="2.5"/>
<circle cx="713.49" cy="385.43" r="2.5"/>
<circle cx="721.7" cy="387.68" r="2.5"/>
<circle cx="710.12" cy="389.59" r="2.5"/>
<circle cx="694.37" cy="396.11" r="2.5"/>
<circle cx="709.55" cy="395.77" r="2.5"/>
<circle cx="714.05" cy="398.02" r="2.5"/>
<circle cx="726.09" cy="403.98" r="2.5"/>
<circle cx="795.03" cy="362.37" r="2.5"/>
<circle cx="798.07" cy="367.66" r="2.5"/>
<circle cx="812.8" cy="366.87" r="2.5"/>
<circle cx="823.71" cy="363.27" r="2.5"/>
<circle cx="826.74" cy="365.75" r="2.5"/>
<circle cx="823.15" cy="376.99" r="2.5"/>
<circle cx="826.29" cy="377.89" r="2.5"/>
<circle cx="802.56" cy="381.72" r="2.5"/>
<circle cx="793.68" cy="384.3" r="2.5"/>
<circle cx="797.84" cy="385.65" r="2.5"/>
<circle cx="827.87" cy="386.33" r="2.5"/>
<circle cx="795.59" cy="390.15" r="2.5"/>
<circle cx="822.92" cy="395.32" r="2.5"/>
<circle cx="805.15" cy="398.59" r="2.5"/>
<circle cx="809.65" cy="398.59" r="2.5"/>
<circle cx="811.56" cy="398.59" r="2.5"/>
<circle cx="817.52" cy="403.08" r="2.5"/>
<circle cx="823.37" cy="402.3" r="2.5"/>
<circle cx="116.52" cy="295.91" r="2.5"/>
<circle cx="116.52" cy="300.52" r="2.5"/>
<circle cx="122.25" cy="302.21" r="2.5"/>
<circle cx="58.93" cy="308.06" r="2.5"/>
<circle cx="123.04" cy="308.85" r="2.5"/>
<circle cx="72.99" cy="311.77" r="2.5"/>
<circle cx="80.86" cy="311.99" r="2.5"/>
<circle cx="81.99" cy="315.14" r="2.5"/>
<circle cx="138" cy="311.77" r="2.5"/>
<circle cx="114.04" cy="314.24" r="2.5"/>
<circle cx="116.29" cy="314.81" r="2.5"/>
<circle cx="55" cy="329.65" r="2.5"/>
<circle cx="54.1" cy="333.03" r="2.5"/>
<circle cx="57.58" cy="335.84" r="2.5"/>
<circle cx="112.36" cy="328.3" r="2.5"/>
<circle cx="96.27" cy="330.89" r="2.5"/>
<circle cx="99.42" cy="331.45" r="2.5"/>
<circle cx="91.21" cy="334.26" r="2.5"/>
<circle cx="72.99" cy="338.42" r="2.5"/>
<circle cx="134.29" cy="337.07" r="2.5"/>
<circle cx="67.37" cy="343.71" r="2.5"/>
<circle cx="100.21" cy="344.61" r="2.5"/>
<circle cx="113.71" cy="342.7" r="2.5"/>
<circle cx="196.93" cy="302.77" r="2.5"/>
<circle cx="195.58" cy="316.16" r="2.5"/>
<circle cx="194.68" cy="327.4" r="2.5"/>
<circle cx="169.94" cy="343.71" r="2.5"/>
<circle cx="300.4" cy="298.5" r="2.5"/>
<circle cx="312.55" cy="321.33" r="2.5"/>
<circle cx="273.75" cy="329.76" r="2.5"/>
<circle cx="302.65" cy="344.05" r="2.5"/>
<circle cx="306.92" cy="345.17" r="2.5"/>
<circle cx="302.76" cy="348.55" r="2.5"/>
<circle cx="400.83" cy="303.33" r="2.5"/>
<circle cx="391.84" cy="311.09" r="2.5"/>
<circle cx="392.17" cy="323.02" r="2.5"/>
<circle cx="391.84" cy="324.37" r="2.5"/>
<circle cx="399.48" cy="338.99" r="2.5"/>
<circle cx="384.86" cy="342.7" r="2.5"/>
<circle cx="494.52" cy="299.06" r="2.5"/>
<circle cx="625.77" cy="294" r="2.5"/>
<circle cx="634.76" cy="295.35" r="2.5"/>
<circle cx="587.87" cy="298.84" r="2.5"/>
<circle cx="583.59" cy="303.33" r="2.5"/>
<circle cx="629.93" cy="308.06" r="2.5"/>
<circle cx="635.89" cy="308.85" r="2.5"/>
<circle cx="637.91" cy="316.16" r="2.5"/>
<circle cx="624.42" cy="317.96" r="2.5"/>
<circle cx="603.61" cy="318.74" r="2.5"/>
<circle cx="623.85" cy="333.93" r="2.5"/>
<circle cx="628.58" cy="335.39" r="2.5"/>
<circle cx="591.69" cy="341.8" r="2.5"/>
<circle cx="628.92" cy="345.51" r="2.5"/>
<circle cx="824.27" cy="304.68" r="2.5"/>
<circle cx="800.88" cy="317.96" r="2.5"/>
<circle cx="815.61" cy="335.28" r="2.5"/>
<circle cx="826.52" cy="338.99" r="2.5"/>
<circle cx="101.04" cy="230.4" r="2.5"/>
<circle cx="122.86" cy="247.52" r="2.5"/>
<circle cx="114.47" cy="256.25" r="2.5"/>
<circle cx="135.27" cy="255.91" r="2.5"/>
<circle cx="128.56" cy="258.93" r="2.5"/>
<circle cx="103.06" cy="264.3" r="2.5"/>
<circle cx="79.56" cy="271.85" r="2.5"/>
<circle cx="116.14" cy="278.73" r="2.5"/>
<circle cx="186.62" cy="276.55" r="2.5"/>
<circle cx="389.51" cy="233.93" r="2.5"/>
<circle cx="391.02" cy="242.32" r="2.5"/>
<circle cx="393.7" cy="258.93" r="2.5"/>
<circle cx="591.89" cy="284.1" r="2.5"/>
<circle cx="96.5" cy="151.8" r="2.5"/>
<circle cx="391.7" cy="135.9" r="2.5"/>
<circle cx="390.8" cy="157" r="2.5"/>
<circle cx="134.06" cy="429.38" r="2.5"/>
<circle cx="138.17" cy="432.67" r="2.5"/>
<circle cx="134.88" cy="437.61" r="2.5"/>
<circle cx="139" cy="440.08" r="2.5"/>
<circle cx="135.7" cy="443.37" r="2.5"/>
<circle cx="138.17" cy="447.48" r="2.5"/>
<circle cx="134.88" cy="450.78" r="2.5"/>
<circle cx="139" cy="453.25" r="2.5"/>
<circle cx="136.53" cy="455.71" r="2.5"/>
<circle cx="70.69" cy="434.32" r="2.5"/>
<circle cx="65.75" cy="436.79" r="2.5"/>
<circle cx="73.98" cy="437.61" r="2.5"/>
<circle cx="68.22" cy="440.08" r="2.5"/>
<circle cx="72.34" cy="442.55" r="2.5"/>
<circle cx="76.45" cy="445.84" r="2.5"/>
<circle cx="70.69" cy="447.48" r="2.5"/>
<circle cx="67.4" cy="449.13" r="2.5"/>
<circle cx="73.16" cy="449.95" r="2.5"/>
<circle cx="115.13" cy="421.15" r="2.5"/>
<circle cx="118.42" cy="424.44" r="2.5"/>
<circle cx="111.84" cy="427.73" r="2.5"/>
<circle cx="116.78" cy="429.38" r="2.5"/>
<circle cx="120.89" cy="434.32" r="2.5"/>
<circle cx="125.01" cy="436.79" r="2.5"/>
<circle cx="201.38" cy="443.37" r="2.5"/>
<circle cx="203.85" cy="445.84" r="2.5"/>
<circle cx="199.73" cy="447.48" r="2.5"/>
<circle cx="206.32" cy="447.48" r="2.5"/>
<circle cx="202.2" cy="449.95" r="2.5"/>
<circle cx="208.79" cy="449.13" r="2.5"/>
<circle cx="198.09" cy="450.78" r="2.5"/>
<circle cx="204.67" cy="451.6" r="2.5"/>
<circle cx="201.38" cy="454.07" r="2.5"/>
<circle cx="207.96" cy="453.25" r="2.5"/>
<circle cx="211.25" cy="454.89" r="2.5"/>
<circle cx="198.09" cy="455.71" r="2.5"/>
<circle cx="204.67" cy="456.04" r="2.5"/>
<circle cx="209.61" cy="457.03" r="2.5"/>
<circle cx="180.8" cy="426.91" r="2.5"/>
<circle cx="180.31" cy="451.93" r="2.5"/>
<circle cx="377.99" cy="447.48" r="2.5"/>
<circle cx="382.11" cy="449.13" r="2.5"/>
<circle cx="375.52" cy="451.6" r="2.5"/>
<circle cx="379.64" cy="453.25" r="2.5"/>
<circle cx="383.75" cy="454.07" r="2.5"/>
<circle cx="380.46" cy="456.54" r="2.5"/>
<circle cx="500.78" cy="418.68" r="2.5"/>
<circle cx="507.03" cy="421.15" r="2.5"/>
<circle cx="509.5" cy="422.8" r="2.5"/>
<circle cx="498.8" cy="436.79" r="2.5"/>
<circle cx="494.69" cy="435.14" r="2.5"/>
<circle cx="500.45" cy="433.49" r="2.5"/>
<circle cx="501.27" cy="446.66" r="2.5"/>
<circle cx="498.8" cy="449.13" r="2.5"/>
<circle cx="507.03" cy="450.78" r="2.5"/>
<circle cx="509.5" cy="453.25" r="2.5"/>
<circle cx="597.4" cy="447.48" r="2.5"/>
<circle cx="594.93" cy="452.42" r="2.5"/>
<circle cx="599.87" cy="456.54" r="2.5"/>
</g>
<line x1="47" y1="191.5" x2="893" y2="191.5" stroke="#ff2a2a" stroke-width="1" stroke-dasharray="4.2 3"/>
<g shape-rendering="crispEdges">
<rect x="46" y="23" width="848" height="1" fill="#c6c6c6"/>
<rect x="46" y="24" width="848" height="1" fill="#b9a999"/>
<rect x="43" y="32" width="851" height="1" fill="#80746a"/>
<rect x="894" y="32" width="3" height="1" fill="#8c8c8c"/>
<rect x="43" y="32" width="3" height="1" fill="#808080"/>
<rect x="43" y="460" width="855" height="1" fill="#808080"/>
<rect x="46" y="24" width="1" height="437" fill="#808080"/>
<rect x="46" y="25" width="1" height="8" fill="#6e6358" opacity="0.45"/>
<rect x="152" y="24" width="1" height="437" fill="#808080"/>
<rect x="152" y="25" width="1" height="8" fill="#6e6358" opacity="0.45"/>
<rect x="258" y="24" width="1" height="437" fill="#808080"/>
<rect x="258" y="25" width="1" height="8" fill="#6e6358" opacity="0.45"/>
<rect x="364" y="24" width="1" height="437" fill="#c0c0c0"/>
<rect x="364" y="25" width="1" height="8" fill="#6e6358" opacity="0.45"/>
<rect x="469" y="24" width="2" height="437" fill="#bbbbbb"/>
<rect x="469" y="25" width="2" height="8" fill="#6e6358" opacity="0.45"/>
<rect x="575" y="24" width="2" height="437" fill="#bbbbbb"/>
<rect x="575" y="25" width="2" height="8" fill="#6e6358" opacity="0.45"/>
<rect x="681" y="24" width="1" height="437" fill="#808080"/>
<rect x="681" y="25" width="1" height="8" fill="#6e6358" opacity="0.45"/>
<rect x="787" y="24" width="1" height="437" fill="#808080"/>
<rect x="787" y="25" width="1" height="8" fill="#6e6358" opacity="0.45"/>
<rect x="893" y="24" width="1" height="437" fill="#808080"/>
<rect x="893" y="25" width="1" height="8" fill="#6e6358" opacity="0.45"/>
</g>
<g stroke="#5c5c5c" stroke-width="0.8" fill="none">
<line x1="53.4" y1="20" x2="53.4" y2="23.5"/>
<line x1="53.4" y1="461" x2="53.4" y2="464"/>
<line x1="71.85" y1="20" x2="71.85" y2="23.5"/>
<line x1="71.85" y1="461" x2="71.85" y2="464"/>
<line x1="90.3" y1="20" x2="90.3" y2="23.5"/>
<line x1="90.3" y1="461" x2="90.3" y2="464"/>
<line x1="108.75" y1="20" x2="108.75" y2="23.5"/>
<line x1="108.75" y1="461" x2="108.75" y2="464"/>
<line x1="127.2" y1="20" x2="127.2" y2="23.5"/>
<line x1="127.2" y1="461" x2="127.2" y2="464"/>
<line x1="145.65" y1="20" x2="145.65" y2="23.5"/>
<line x1="145.65" y1="461" x2="145.65" y2="464"/>
<line x1="159.28" y1="20" x2="159.28" y2="23.5"/>
<line x1="159.28" y1="461" x2="159.28" y2="464"/>
<line x1="177.72" y1="20" x2="177.72" y2="23.5"/>
<line x1="177.72" y1="461" x2="177.72" y2="464"/>
<line x1="196.18" y1="20" x2="196.18" y2="23.5"/>
<line x1="196.18" y1="461" x2="196.18" y2="464"/>
<line x1="214.62" y1="20" x2="214.62" y2="23.5"/>
<line x1="214.62" y1="461" x2="214.62" y2="464"/>
<line x1="233.07" y1="20" x2="233.07" y2="23.5"/>
<line x1="233.07" y1="461" x2="233.07" y2="464"/>
<line x1="251.53" y1="20" x2="251.53" y2="23.5"/>
<line x1="251.53" y1="461" x2="251.53" y2="464"/>
<line x1="265.15" y1="20" x2="265.15" y2="23.5"/>
<line x1="265.15" y1="461" x2="265.15" y2="464"/>
<line x1="283.6" y1="20" x2="283.6" y2="23.5"/>
<line x1="283.6" y1="461" x2="283.6" y2="464"/>
<line x1="302.05" y1="20" x2="302.05" y2="23.5"/>
<line x1="302.05" y1="461" x2="302.05" y2="464"/>
<line x1="320.5" y1="20" x2="320.5" y2="23.5"/>
<line x1="320.5" y1="461" x2="320.5" y2="464"/>
<line x1="338.95" y1="20" x2="338.95" y2="23.5"/>
<line x1="338.95" y1="461" x2="338.95" y2="464"/>
<line x1="357.4" y1="20" x2="357.4" y2="23.5"/>
<line x1="357.4" y1="461" x2="357.4" y2="464"/>
<line x1="371.02" y1="20" x2="371.02" y2="23.5"/>
<line x1="371.02" y1="461" x2="371.02" y2="464"/>
<line x1="389.47" y1="20" x2="389.47" y2="23.5"/>
<line x1="389.47" y1="461" x2="389.47" y2="464"/>
<line x1="407.92" y1="20" x2="407.92" y2="23.5"/>
<line x1="407.92" y1="461" x2="407.92" y2="464"/>
<line x1="426.38" y1="20" x2="426.38" y2="23.5"/>
<line x1="426.38" y1="461" x2="426.38" y2="464"/>
<line x1="444.82" y1="20" x2="444.82" y2="23.5"/>
<line x1="444.82" y1="461" x2="444.82" y2="464"/>
<line x1="463.27" y1="20" x2="463.27" y2="23.5"/>
<line x1="463.27" y1="461" x2="463.27" y2="464"/>
<line x1="476.9" y1="20" x2="476.9" y2="23.5"/>
<line x1="476.9" y1="461" x2="476.9" y2="464"/>
<line x1="495.35" y1="20" x2="495.35" y2="23.5"/>
<line x1="495.35" y1="461" x2="495.35" y2="464"/>
<line x1="513.8" y1="20" x2="513.8" y2="23.5"/>
<line x1="513.8" y1="461" x2="513.8" y2="464"/>
<line x1="532.25" y1="20" x2="532.25" y2="23.5"/>
<line x1="532.25" y1="461" x2="532.25" y2="464"/>
<line x1="550.7" y1="20" x2="550.7" y2="23.5"/>
<line x1="550.7" y1="461" x2="550.7" y2="464"/>
<line x1="569.15" y1="20" x2="569.15" y2="23.5"/>
<line x1="569.15" y1="461" x2="569.15" y2="464"/>
<line x1="582.77" y1="20" x2="582.77" y2="23.5"/>
<line x1="582.77" y1="461" x2="582.77" y2="464"/>
<line x1="601.23" y1="20" x2="601.23" y2="23.5"/>
<line x1="601.23" y1="461" x2="601.23" y2="464"/>
<line x1="619.67" y1="20" x2="619.67" y2="23.5"/>
<line x1="619.67" y1="461" x2="619.67" y2="464"/>
<line x1="638.12" y1="20" x2="638.12" y2="23.5"/>
<line x1="638.12" y1="461" x2="638.12" y2="464"/>
<line x1="656.57" y1="20" x2="656.57" y2="23.5"/>
<line x1="656.57" y1="461" x2="656.57" y2="464"/>
<line x1="675.02" y1="20" x2="675.02" y2="23.5"/>
<line x1="675.02" y1="461" x2="675.02" y2="464"/>
<line x1="688.65" y1="20" x2="688.65" y2="23.5"/>
<line x1="688.65" y1="461" x2="688.65" y2="464"/>
<line x1="707.1" y1="20" x2="707.1" y2="23.5"/>
<line x1="707.1" y1="461" x2="707.1" y2="464"/>
<line x1="725.55" y1="20" x2="725.55" y2="23.5"/>
<line x1="725.55" y1="461" x2="725.55" y2="464"/>
<line x1="744" y1="20" x2="744" y2="23.5"/>
<line x1="744" y1="461" x2="744" y2="464"/>
<line x1="762.45" y1="20" x2="762.45" y2="23.5"/>
<line x1="762.45" y1="461" x2="762.45" y2="464"/>
<line x1="780.9" y1="20" x2="780.9" y2="23.5"/>
<line x1="780.9" y1="461" x2="780.9" y2="464"/>
<line x1="794.52" y1="20" x2="794.52" y2="23.5"/>
<line x1="794.52" y1="461" x2="794.52" y2="464"/>
<line x1="812.98" y1="20" x2="812.98" y2="23.5"/>
<line x1="812.98" y1="461" x2="812.98" y2="464"/>
<line x1="831.42" y1="20" x2="831.42" y2="23.5"/>
<line x1="831.42" y1="461" x2="831.42" y2="464"/>
<line x1="849.88" y1="20" x2="849.88" y2="23.5"/>
<line x1="849.88" y1="461" x2="849.88" y2="464"/>
<line x1="868.32" y1="20" x2="868.32" y2="23.5"/>
<line x1="868.32" y1="461" x2="868.32" y2="464"/>
<line x1="886.77" y1="20" x2="886.77" y2="23.5"/>
<line x1="886.77" y1="461" x2="886.77" y2="464"/>
<line x1="43" y1="399.5" x2="46" y2="399.5"/>
<line x1="894" y1="399.5" x2="898" y2="399.5"/>
<line x1="43" y1="338.3" x2="46" y2="338.3"/>
<line x1="894" y1="338.3" x2="898" y2="338.3"/>
<line x1="43" y1="277.1" x2="46" y2="277.1"/>
<line x1="894" y1="277.1" x2="898" y2="277.1"/>
<line x1="43" y1="215.9" x2="46" y2="215.9"/>
<line x1="894" y1="215.9" x2="898" y2="215.9"/>
<line x1="43" y1="154.7" x2="46" y2="154.7"/>
<line x1="894" y1="154.7" x2="898" y2="154.7"/>
<line x1="43" y1="93.5" x2="46" y2="93.5"/>
<line x1="894" y1="93.5" x2="898" y2="93.5"/>
</g>
<g font-family='"Liberation Sans", sans-serif' font-size="10.9" fill="#000" stroke="#000" stroke-width="0.25" text-anchor="middle">
<text x="53.1" y="475.7">0</text>
<text x="71.55" y="475.7">10</text>
<text x="90" y="475.7">20</text>
<text x="108.45" y="475.7">30</text>
<text x="126.9" y="475.7">40</text>
<text x="145.35" y="475.7">50</text>
<text x="158.78" y="16.6">0</text>
<text x="177.22" y="16.6">10</text>
<text x="195.68" y="16.6">20</text>
<text x="214.12" y="16.6">30</text>
<text x="232.57" y="16.6">40</text>
<text x="251.03" y="16.6">50</text>
<text x="264.85" y="475.7">0</text>
<text x="283.3" y="475.7">10</text>
<text x="301.75" y="475.7">20</text>
<text x="320.2" y="475.7">30</text>
<text x="338.65" y="475.7">40</text>
<text x="357.1" y="475.7">50</text>
<text x="370.52" y="16.6">0</text>
<text x="388.97" y="16.6">10</text>
<text x="407.42" y="16.6">20</text>
<text x="425.88" y="16.6">30</text>
<text x="444.32" y="16.6">40</text>
<text x="462.77" y="16.6">50</text>
<text x="476.6" y="475.7">0</text>
<text x="495.05" y="475.7">10</text>
<text x="513.5" y="475.7">20</text>
<text x="531.95" y="475.7">30</text>
<text x="550.4" y="475.7">40</text>
<text x="568.85" y="475.7">50</text>
<text x="582.27" y="16.6">0</text>
<text x="600.73" y="16.6">10</text>
<text x="619.17" y="16.6">20</text>
<text x="637.62" y="16.6">30</text>
<text x="656.07" y="16.6">40</text>
<text x="674.52" y="16.6">50</text>
<text x="688.35" y="475.7">0</text>
<text x="706.8" y="475.7">10</text>
<text x="725.25" y="475.7">20</text>
<text x="743.7" y="475.7">30</text>
<text x="762.15" y="475.7">40</text>
<text x="780.6" y="475.7">50</text>
<text x="794.02" y="16.6">0</text>
<text x="812.48" y="16.6">10</text>
<text x="830.92" y="16.6">20</text>
<text x="849.38" y="16.6">30</text>
<text x="867.82" y="16.6">40</text>
<text x="886.27" y="16.6">50</text>
</g>
<g font-family='"Liberation Sans", sans-serif' font-size="10.9" fill="#000" stroke="#000" stroke-width="0.25" text-anchor="end">
<text x="39.6" y="403.6">1</text>
<text x="39.6" y="342.4">2</text>
<text x="39.6" y="281.2">3</text>
<text x="39.6" y="220">4</text>
<text x="39.6" y="158.8">5</text>
<text x="39.6" y="97.6">6</text>
</g>
<text x="469.8" y="494.7" font-family='"Liberation Sans", sans-serif' font-size="14.8" fill="#000" text-anchor="middle">Physical position (Mbp)</text>
<text transform="translate(26 246.7) rotate(-90) scale(1.04 0.95)" font-family='"Liberation Sans", sans-serif' font-size="14.7" fill="#000" text-anchor="middle">-log(P-value)</text>
<g font-family='"Liberation Sans", sans-serif' font-size="18" font-weight="700" fill="#000">
<text x="104.6" y="157.4">ss490546759</text>
<text x="399.6" y="140.5">ss490552928</text>
<text x="399.6" y="164">ss490552906</text>
</g>
</g>
<g id="boxb">
<rect x="1008.9" y="12.1" width="390.2" height="441.7" fill="#ebebeb"/>
<g stroke="#f4f4f4" stroke-width="0.9">
<line x1="1008.9" y1="412.12" x2="1399.1" y2="412.12"/>
<line x1="1008.9" y1="303.5" x2="1399.1" y2="303.5"/>
<line x1="1008.9" y1="194.88" x2="1399.1" y2="194.88"/>
<line x1="1008.9" y1="86.26" x2="1399.1" y2="86.26"/>
</g>
<g stroke="#f7f7f7" stroke-width="1.1">
<line x1="1008.9" y1="357.81" x2="1399.1" y2="357.81"/>
<line x1="1008.9" y1="249.19" x2="1399.1" y2="249.19"/>
<line x1="1008.9" y1="140.57" x2="1399.1" y2="140.57"/>
<line x1="1008.9" y1="31.95" x2="1399.1" y2="31.95"/>
<line x1="1081.5" y1="12.1" x2="1081.5" y2="453.8" stroke="#f6f6f6"/>
<line x1="1204" y1="12.1" x2="1204" y2="453.8" stroke="#f6f6f6"/>
<line x1="1326" y1="12.1" x2="1326" y2="453.8" stroke="#f6f6f6"/>
</g>
<g stroke="#6e6e6e" stroke-width="1" fill="none">
<line x1="1081.5" y1="42.41" x2="1081.5" y2="118.85"/>
<line x1="1081.5" y1="184.02" x2="1081.5" y2="271.31"/>
<rect x="1035.95" y="118.85" width="91.4" height="65.17" fill="#f8766d" stroke="#5a5a5a" stroke-width="0.7"/>
<line x1="1035.95" y1="162.29" x2="1127.35" y2="162.29" stroke-width="1.3" stroke="#3c3c3c" opacity="0.9"/>
</g>
<circle cx="1081.8" cy="412.22" r="1.55" fill="#2b2b2b"/>
<g stroke="#6e6e6e" stroke-width="1" fill="none">
<line x1="1204" y1="31.55" x2="1204" y2="162.29"/>
<line x1="1204" y1="292.64" x2="1204" y2="434.24"/>
<rect x="1158.45" y="162.29" width="91.4" height="130.34" fill="#00ba38" stroke="#5a5a5a" stroke-width="0.7"/>
<line x1="1158.45" y1="216.6" x2="1249.85" y2="216.6" stroke-width="1.3" stroke="#3c3c3c" opacity="0.9"/>
</g>
<g stroke="#6e6e6e" stroke-width="1" fill="none">
<line x1="1326" y1="129.31" x2="1326" y2="257.88"/>
<line x1="1326" y1="357.81" x2="1326" y2="434.24"/>
<rect x="1280.45" y="257.88" width="91.4" height="99.93" fill="#619cff" stroke="#5a5a5a" stroke-width="0.7"/>
<line x1="1280.45" y1="330.65" x2="1371.85" y2="330.65" stroke-width="1.3" stroke="#3c3c3c" opacity="0.9"/>
</g>
<g stroke="#b5b5b5" stroke-width="1">
<line x1="1006.3" y1="357.81" x2="1008.9" y2="357.81"/>
<line x1="1006.3" y1="249.19" x2="1008.9" y2="249.19"/>
<line x1="1006.3" y1="140.57" x2="1008.9" y2="140.57"/>
<line x1="1006.3" y1="31.95" x2="1008.9" y2="31.95"/>
<line x1="1081.5" y1="453.8" x2="1081.5" y2="456.4"/>
<line x1="1204" y1="453.8" x2="1204" y2="456.4"/>
<line x1="1326" y1="453.8" x2="1326" y2="456.4"/>
</g>
<g font-family='"Liberation Sans", sans-serif' font-size="14.67" font-weight="700" fill="#000" text-anchor="end">
<text x="1005.5" y="363.21">50</text>
<text x="1005.5" y="254.59">60</text>
<text x="1005.5" y="145.97">70</text>
<text x="1005.5" y="37.35">80</text>
</g>
<g font-family='"Liberation Sans", sans-serif' font-size="14.67" font-weight="700" fill="#000" text-anchor="middle">
<text x="1081.5" y="468.8">BB</text>
<text x="1204" y="468.8">AB</text>
<text x="1326" y="468.8">AA</text>
</g>
<text x="1204" y="485.7" font-family='"Liberation Sans", sans-serif' font-size="18.2" font-weight="700" fill="#000" text-anchor="middle">ss490552928</text>
<text transform="translate(986 232.5) rotate(-90)" font-family='"Liberation Sans", sans-serif' font-size="18" font-weight="700" fill="#000" text-anchor="middle">Firmness</text>
<rect x="1262.1" y="19.3" width="118" height="73.6" fill="#ffffff"/>
<text x="1265.4" y="34.5" font-family='"Liberation Sans", sans-serif' font-size="14.9" font-weight="700" fill="#000">Genotype</text>
<rect x="1265.9" y="37.3" width="9.8" height="17.3" fill="#f2f2f2"/>
<line x1="1270.5" y1="38.7" x2="1270.5" y2="52.7" stroke="#6a6a6a" stroke-width="1"/>
<rect x="1267" y="41.2" width="7.7" height="8.7" fill="#f8766d" stroke="#555" stroke-width="0.7"/>
<line x1="1267" y1="45.5" x2="1274.7" y2="45.5" stroke="#4a4a4a" stroke-width="0.9"/>
<text x="1276.9" y="51.8" font-family='"Liberation Sans", sans-serif' font-size="14.67" font-weight="700" fill="#000">BB(n=89, 68a)</text>
<rect x="1265.9" y="54.7" width="9.8" height="17.3" fill="#f2f2f2"/>
<line x1="1270.5" y1="56.1" x2="1270.5" y2="70.1" stroke="#6a6a6a" stroke-width="1"/>
<rect x="1267" y="58.6" width="7.7" height="8.7" fill="#00ba38" stroke="#555" stroke-width="0.7"/>
<line x1="1267" y1="62.9" x2="1274.7" y2="62.9" stroke="#4a4a4a" stroke-width="0.9"/>
<text x="1276.9" y="69.2" font-family='"Liberation Sans", sans-serif' font-size="14.67" font-weight="700" fill="#000">AB(n=55, 62b)</text>
<rect x="1265.9" y="72.1" width="9.8" height="17.3" fill="#f2f2f2"/>
<line x1="1270.5" y1="73.5" x2="1270.5" y2="87.5" stroke="#6a6a6a" stroke-width="1"/>
<rect x="1267" y="76" width="7.7" height="8.7" fill="#619cff" stroke="#555" stroke-width="0.7"/>
<line x1="1267" y1="80.3" x2="1274.7" y2="80.3" stroke="#4a4a4a" stroke-width="0.9"/>
<text x="1276.9" y="86.6" font-family='"Liberation Sans", sans-serif' font-size="14.67" font-weight="700" fill="#000">AA(n=16, 55c)</text>
</g>
<g id="boxc">
<rect x="1504.6" y="12.1" width="390.4" height="441.7" fill="#ebebeb"/>
<g stroke="#f4f4f4" stroke-width="0.9">
<line x1="1504.6" y1="412.12" x2="1895" y2="412.12"/>
<line x1="1504.6" y1="303.5" x2="1895" y2="303.5"/>
<line x1="1504.6" y1="194.88" x2="1895" y2="194.88"/>
<line x1="1504.6" y1="86.26" x2="1895" y2="86.26"/>
</g>
<g stroke="#f7f7f7" stroke-width="1.1">
<line x1="1504.6" y1="357.81" x2="1895" y2="357.81"/>
<line x1="1504.6" y1="249.19" x2="1895" y2="249.19"/>
<line x1="1504.6" y1="140.57" x2="1895" y2="140.57"/>
<line x1="1504.6" y1="31.95" x2="1895" y2="31.95"/>
<line x1="1577.5" y1="12.1" x2="1577.5" y2="453.8" stroke="#f6f6f6"/>
<line x1="1699.5" y1="12.1" x2="1699.5" y2="453.8" stroke="#f6f6f6"/>
<line x1="1821.5" y1="12.1" x2="1821.5" y2="453.8" stroke="#f6f6f6"/>
</g>
<g stroke="#6e6e6e" stroke-width="1" fill="none">
<line x1="1577.5" y1="42.41" x2="1577.5" y2="129.71"/>
<line x1="1577.5" y1="194.88" x2="1577.5" y2="293.04"/>
<rect x="1531.95" y="129.71" width="91.4" height="65.17" fill="#f8766d" stroke="#5a5a5a" stroke-width="0.7"/>
<line x1="1531.95" y1="173.16" x2="1623.35" y2="173.16" stroke-width="1.3" stroke="#3c3c3c" opacity="0.9"/>
</g>
<circle cx="1577.8" cy="303.6" r="1.55" fill="#2b2b2b"/>
<circle cx="1577.8" cy="314.46" r="1.55" fill="#2b2b2b"/>
<g stroke="#6e6e6e" stroke-width="1" fill="none">
<line x1="1699.5" y1="31.55" x2="1699.5" y2="162.29"/>
<line x1="1699.5" y1="325.22" x2="1699.5" y2="434.24"/>
<rect x="1653.95" y="162.29" width="91.4" height="162.93" fill="#00ba38" stroke="#5a5a5a" stroke-width="0.7"/>
<line x1="1653.95" y1="249.19" x2="1745.35" y2="249.19" stroke-width="1.3" stroke="#3c3c3c" opacity="0.9"/>
</g>
<g stroke="#6e6e6e" stroke-width="1" fill="none">
<line x1="1821.5" y1="352.38" x2="1821.5" y2="358.21"/>
<rect x="1775.95" y="292.64" width="91.4" height="59.74" fill="#619cff" stroke="#5a5a5a" stroke-width="0.7"/>
<line x1="1775.95" y1="314.36" x2="1867.35" y2="314.36" stroke-width="1.3" stroke="#3c3c3c" opacity="0.9"/>
</g>
<circle cx="1821.8" cy="151.53" r="1.55" fill="#2b2b2b"/>
<g stroke="#b5b5b5" stroke-width="1">
<line x1="1502" y1="357.81" x2="1504.6" y2="357.81"/>
<line x1="1502" y1="249.19" x2="1504.6" y2="249.19"/>
<line x1="1502" y1="140.57" x2="1504.6" y2="140.57"/>
<line x1="1502" y1="31.95" x2="1504.6" y2="31.95"/>
<line x1="1577.5" y1="453.8" x2="1577.5" y2="456.4"/>
<line x1="1699.5" y1="453.8" x2="1699.5" y2="456.4"/>
<line x1="1821.5" y1="453.8" x2="1821.5" y2="456.4"/>
</g>
<g font-family='"Liberation Sans", sans-serif' font-size="14.67" font-weight="700" fill="#000" text-anchor="end">
<text x="1501" y="363.21">50</text>
<text x="1501" y="254.59">60</text>
<text x="1501" y="145.97">70</text>
<text x="1501" y="37.35">80</text>
</g>
<g font-family='"Liberation Sans", sans-serif' font-size="14.67" font-weight="700" fill="#000" text-anchor="middle">
<text x="1577.5" y="468.8">AA</text>
<text x="1699.5" y="468.8">AB</text>
<text x="1821.5" y="468.8">BB</text>
</g>
<text x="1699.5" y="485.7" font-family='"Liberation Sans", sans-serif' font-size="18.2" font-weight="700" fill="#000" text-anchor="middle">ss490552906</text>
<text transform="translate(1482 232.5) rotate(-90)" font-family='"Liberation Sans", sans-serif' font-size="18" font-weight="700" fill="#000" text-anchor="middle">Firmness</text>
<rect x="1754.2" y="19.3" width="125.5" height="73.6" fill="#ffffff"/>
<text x="1757.5" y="34.5" font-family='"Liberation Sans", sans-serif' font-size="14.9" font-weight="700" fill="#000">Genotype</text>
<rect x="1758" y="37.3" width="9.8" height="17.3" fill="#f2f2f2"/>
<line x1="1762.5" y1="38.7" x2="1762.5" y2="52.7" stroke="#6a6a6a" stroke-width="1"/>
<rect x="1759.1" y="41.2" width="7.7" height="8.7" fill="#f8766d" stroke="#555" stroke-width="0.7"/>
<line x1="1759.1" y1="45.5" x2="1766.8" y2="45.5" stroke="#4a4a4a" stroke-width="0.9"/>
<text x="1769" y="51.8" font-family='"Liberation Sans", sans-serif' font-size="14.67" font-weight="700" fill="#000">AA(n=103, 68a)</text>
<rect x="1758" y="54.7" width="9.8" height="17.3" fill="#f2f2f2"/>
<line x1="1762.5" y1="56.1" x2="1762.5" y2="70.1" stroke="#6a6a6a" stroke-width="1"/>
<rect x="1759.1" y="58.6" width="7.7" height="8.7" fill="#00ba38" stroke="#555" stroke-width="0.7"/>
<line x1="1759.1" y1="62.9" x2="1766.8" y2="62.9" stroke="#4a4a4a" stroke-width="0.9"/>
<text x="1769" y="69.2" font-family='"Liberation Sans", sans-serif' font-size="14.67" font-weight="700" fill="#000">AB(n=49, 60b)</text>
<rect x="1758" y="72.1" width="9.8" height="17.3" fill="#f2f2f2"/>
<line x1="1762.5" y1="73.5" x2="1762.5" y2="87.5" stroke="#6a6a6a" stroke-width="1"/>
<rect x="1759.1" y="76" width="7.7" height="8.7" fill="#619cff" stroke="#555" stroke-width="0.7"/>
<line x1="1759.1" y1="80.3" x2="1766.8" y2="80.3" stroke="#4a4a4a" stroke-width="0.9"/>
<text x="1769" y="86.6" font-family='"Liberation Sans", sans-serif' font-size="14.67" font-weight="700" fill="#000">BB(n=6, 56b)</text>
</g>
</svg>
</body>
</html>
